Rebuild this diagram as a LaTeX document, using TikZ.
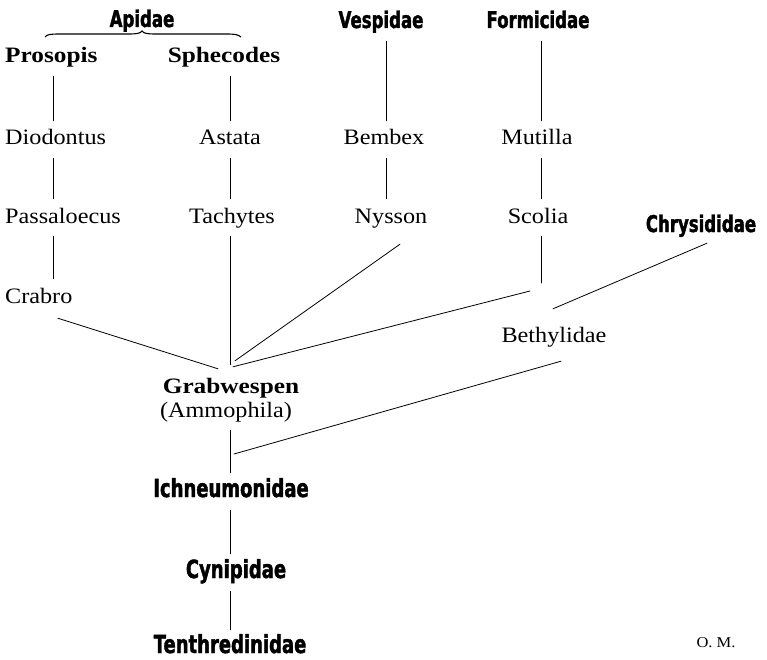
\documentclass[tikz,border=0pt]{standalone}
\usepackage{fontspec}
\setmainfont{Liberation Serif}[FakeStretch=1.1]
\newfontfamily\bserif{Liberation Serif}[FakeStretch=1.15]
\newfontfamily\heavyfont{DejaVu Sans}[FakeStretch=0.72, FakeBold=1.6]
\begin{document}
\begin{tikzpicture}[x=1pt,y=-1pt,
  every node/.style={inner xsep=0pt, inner ysep=9pt, text height=15pt, text depth=4pt, anchor=base},
  txt/.style={font=\fontsize{22}{25}\selectfont},
  btxt/.style={font=\bserif\bfseries\fontsize{22}{25}\selectfont},
  hvy/.style={font=\heavyfont\bfseries\fontsize{25}{28}\selectfont},
  hvys/.style={font=\heavyfont\bfseries\fontsize{23}{26}\selectfont},
  conn/.style={line width=0.8pt, line cap=round}]
\useasboundingbox (0,0) rectangle (767,660);
% column coordinates
\coordinate (colA) at (53,0);
\coordinate (colB) at (230,0);
\coordinate (colC) at (386,0);
\coordinate (colD) at (541,0);
% top labels
\node[hvys] (apidae) at (142,27) {Apidae};
\node[hvys] (vespidae) at (381,28) {Vespidae};
\node[hvys] (formicidae) at (538,28) {Formicidae};
\node[btxt, anchor=base west] (prosopis) at (5,63) {Prosopis};
\node[btxt] (sphecodes) at (224,63) {Sphecodes};
% row 2
\node[txt, anchor=base west] (diodontus) at (5,145) {Diodontus};
\node[txt] (astata) at (230,145) {Astata};
\node[txt] (bembex) at (384,145) {Bembex};
\node[txt] (mutilla) at (537,145) {Mutilla};
% row 3
\node[txt, anchor=base west] (passaloecus) at (5,223) {Passaloecus};
\node[txt] (tachytes) at (232,223) {Tachytes};
\node[txt] (nysson) at (391,223) {Nysson};
\node[txt] (scolia) at (538,223) {Scolia};
\node[hvys] (chrysididae) at (701,232) {Chrysididae};
% row 4
\node[txt, anchor=base west] (crabro) at (5,303) {Crabro};
\node[txt] (bethylidae) at (554,342) {Bethylidae};
% lower trunk
\node[btxt] (grab) at (231,393) {Grabwespen};
\node[txt] (ammo) at (226,417) {(Ammophila)};
\node[hvy] (ichneu) at (231,497) {Ichneumonidae};
\node[hvy] (cynip) at (236,578) {Cynipidae};
\node[hvy, inner ysep=1pt, text depth=0pt] (tenth) at (230,653) {Tenthredinidae};
\node[font=\fontsize{15}{18}\selectfont, inner ysep=1pt, text height=11pt, text depth=0pt] (om) at (716,647) {O.\ M.};
% brace under Apidae
\draw[line width=1.1pt] (45,37) .. controls (47,34.5) and (50,34) .. (60,34) -- (128,34)
  .. controls (137,34) and (140,33.5) .. (142,31) .. controls (144,33.5) and (147,34) .. (156,34)
  -- (226,34) .. controls (235,34) and (238,34.5) .. (241,37);
% vertical connectors
\draw[conn] (prosopis.south -| colA) -- (diodontus.north -| colA);
\draw[conn] (diodontus.south -| colA) -- (passaloecus.north -| colA);
\draw[conn] (passaloecus.south -| colA) -- (crabro.north -| colA);
\draw[conn] (sphecodes.south -| colB) -- (astata.north -| colB);
\draw[conn] (astata.south -| colB) -- (tachytes.north -| colB);
\draw[conn] (vespidae.south -| colC) -- (bembex.north -| colC);
\draw[conn] (bembex.south -| colC) -- (nysson.north -| colC);
\draw[conn] (formicidae.south -| colD) -- (mutilla.north -| colD);
\draw[conn] (mutilla.south -| colD) -- (scolia.north -| colD);
\coordinate (sj) at (541,283);
\draw[conn] (scolia.south -| colD) -- (sj);
% converging on Grabwespen
\draw[conn] (tachytes.south -| colB) -- ([shift={(-1,-4)}]grab.north);
\draw[conn] ([shift={(19,2)}]crabro.south) -- ([shift={(-13,0)}]grab.north);
\draw[conn] ([shift={(9,8)}]nysson.south) -- ([shift={(4,-8)}]grab.north);
\draw[conn] ([shift={(-11,8)}]sj) -- ([shift={(2,-2)}]grab.north);
% Chrysididae - Bethylidae
\draw[conn] ([shift={(6,-2)}]chrysididae.south) -- ([shift={(-1,-9)}]bethylidae.north);
% trunk
\coordinate (bj) at (234,454);
\draw[conn] ([xshift=4]ammo.south) -- ([xshift=-1]ichneu.north);
\draw[conn] ([shift={(7,6)}]bethylidae.south) -- (bj);
\draw[conn] ([xshift=-1]ichneu.south) -- ([xshift=-6]cynip.north);
\draw[conn, shorten >=7pt] ([xshift=-6]cynip.south) -- (tenth.north);
\end{tikzpicture}
\end{document}
